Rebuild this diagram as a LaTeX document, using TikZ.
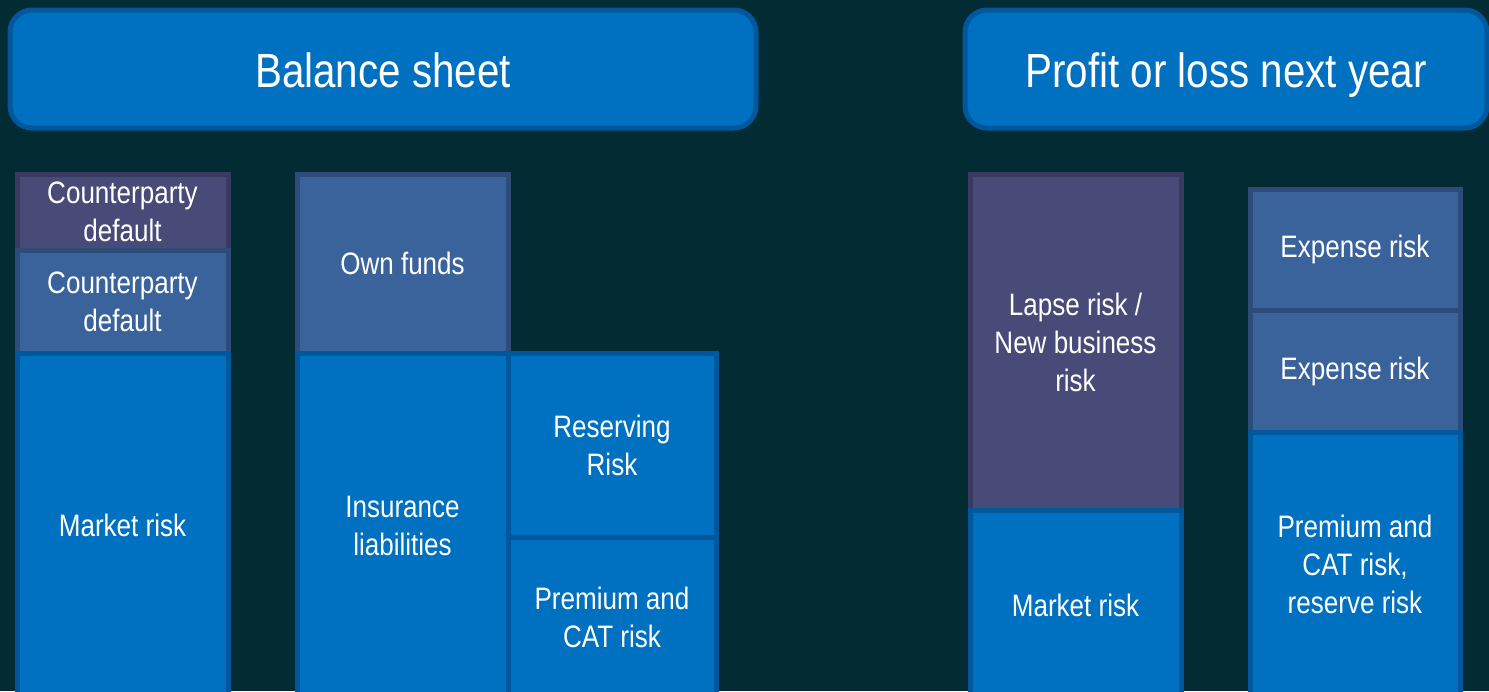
\documentclass[tikz,border=0pt]{standalone}
\usepackage{fontspec}
\setmainfont{Liberation Sans}[FakeStretch=0.84]
\usepackage{tikz}
\usetikzlibrary{positioning, shapes}
\definecolor{darkbg}{HTML}{032B33}
\definecolor{riskblue}{HTML}{0070C0}
\definecolor{blueline}{HTML}{00579B}
\definecolor{slateblue}{HTML}{3A639C}
\definecolor{slateline}{HTML}{2E4C79}
\definecolor{purplerisk}{HTML}{484B78}
\definecolor{purpleline}{HTML}{393A61}
\tikzstyle{header} = [rectangle, rounded corners=22pt, draw=blueline, fill=riskblue, line width=5pt, text=white, font=\fontsize{48}{56}\selectfont, text height=40pt, text depth=4pt, minimum height=118pt, outer sep=0pt, anchor=north west]
\tikzstyle{block} = [rectangle, draw=blueline, fill=riskblue, line width=5pt, text=white, align=center, font=\fontsize{31}{38}\selectfont, inner sep=0pt, outer sep=0pt, minimum width=211pt]
\tikzstyle{slate} = [block, draw=slateline, fill=slateblue]
\tikzstyle{purple} = [block, draw=purpleline, fill=purplerisk]

\begin{document}
\begin{tikzpicture}[x=1pt, y=-1pt]
			\fill[darkbg] (0,0) rectangle (1489,691);
			\useasboundingbox (0,0) rectangle (1489,691);

			% Headers
			\node(balance)[header, minimum width=746pt] at (10,10) {Balance sheet};
			\node(profit)[header, minimum width=522pt] at (965,10) {Profit or loss next year};

			% Balance sheet: assets
			\node(cpdefault)[purple, anchor=north west, minimum height=76pt] at (17,174) {Counterparty\\default};
			\node(cpdefaulttwo)[slate, below=0pt of cpdefault, minimum height=103pt] {Counterparty\\default};
			\node(market)[block, below=0pt of cpdefaulttwo, minimum height=345pt] {Market risk};

			% Balance sheet: liabilities
			\node(ownfunds)[slate, anchor=north west, minimum height=179pt] at (297,174) {Own funds};
			\node(insurance)[block, below=0pt of ownfunds, minimum height=345pt] {Insurance\\liabilities};
			\node(reserving)[block, anchor=north west, minimum width=208pt, minimum height=184pt] at (insurance.north east) {Reserving\\Risk};
			\node(premium)[block, below=0pt of reserving, minimum width=208pt, minimum height=160pt] {Premium and\\CAT risk};

			% Profit or loss
			\node(lapse)[purple, anchor=north west, minimum height=336pt] at (970,174) {Lapse risk /\\New business\\risk};
			\node(marketpl)[block, below=0pt of lapse, minimum height=190pt] {Market risk};
			\node(expense)[slate, anchor=north west, minimum width=210pt, minimum height=121pt] at (1250,189) {Expense risk};
			\node(expensetwo)[slate, below=0pt of expense, minimum width=210pt, minimum height=122pt] {Expense risk};
			\node(premcat)[block, below=0pt of expensetwo, minimum width=210pt, minimum height=265pt] {Premium and\\CAT risk,\\reserve risk};
		\end{tikzpicture}
\end{document}
